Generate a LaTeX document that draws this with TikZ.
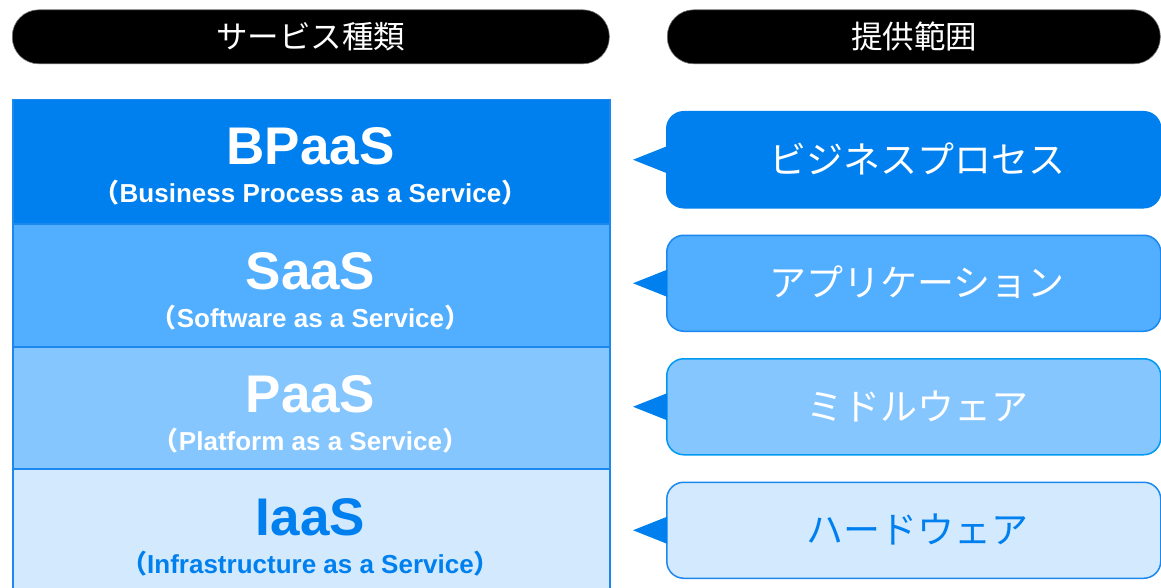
\documentclass[tikz,border=0pt]{standalone}
\usepackage{fontspec}
\setmainfont{Liberation Sans}
\newfontfamily\cjk{Noto Sans CJK JP}
\usetikzlibrary{calc}
\definecolor{cA}{HTML}{0080EE}
\definecolor{cB}{HTML}{52AEFF}
\definecolor{cC}{HTML}{85C6FF}
\definecolor{cD}{HTML}{D3E9FE}
\definecolor{edgeblue}{HTML}{1A88EE}
\begin{document}
\begin{tikzpicture}[x=1pt,y=-1pt,
 header/.style={fill=black, draw=black!55, line width=0.6pt, rounded corners=26.5pt, minimum height=54pt, inner sep=0pt, anchor=north west},
 headtext/.style={text=white, font=\cjk\fontsize{31.5}{31.5}\selectfont, inner sep=0pt},
 layer/.style={draw=edgeblue, line width=1.5pt, minimum width=597pt, anchor=north west, inner sep=0pt},
 ttl/.style={font=\bfseries\fontsize{53}{53}\selectfont, inner sep=0pt, anchor=base},
 subttl/.style={font=\bfseries\fontsize{26}{26}\selectfont, inner sep=0pt, anchor=base},
 callout/.style={draw=edgeblue, line width=1.5pt, rounded corners=17pt, minimum width=494pt, minimum height=96pt, anchor=north west, inner sep=0pt},
 calltext/.style={font=\cjk\fontsize{37}{37}\selectfont, inner sep=0pt},
 pointer/.style={fill=cA}
]
\useasboundingbox (0,0) rectangle (1161,588);
\clip (0,0) rectangle (1161,588);

% headers
\node[header, minimum width=597pt] (h1) at (12,9.5) {};
\node[header, minimum width=493pt] (h2) at (667,9.5) {};
\node[headtext] (h1t) at (310.5,36.5) {サービス種類};
\node[headtext] (h2t) at (914,36.5) {提供範囲};

% layers
\node[layer, fill=cA, minimum height=124pt] (L1) at (12,99) {};
\node[layer, fill=cB, minimum height=123pt] (L2) at (12,223) {};
\node[layer, fill=cC, minimum height=122pt] (L3) at (12,346) {};
\node[layer, fill=cD, minimum height=130pt] (L4) at (12,468) {};

\node[ttl, text=white] (t1) at (310.5,165) {BPaaS};
\node[subttl, text=white] (s1) at (310.5,203) {{\cjk\bfseries （}Business Process as a Service{\cjk\bfseries ）}};
\node[ttl, text=white] (t2) at (310.5,289) {SaaS};
\node[subttl, text=white] (s2) at (310.5,327) {{\cjk\bfseries （}Software as a Service{\cjk\bfseries ）}};
\node[ttl, text=white] (t3) at (310.5,412) {PaaS};
\node[subttl, text=white] (s3) at (310.5,450) {{\cjk\bfseries （}Platform as a Service{\cjk\bfseries ）}};
\node[ttl, text=cA] (t4) at (310.5,535) {IaaS};
\node[subttl, text=cA] (s4) at (310.5,573) {{\cjk\bfseries （}Infrastructure as a Service{\cjk\bfseries ）}};

% callouts
\node[callout, fill=cA, draw=cA] (b1) at (666,111) {};
\node[callout, fill=cB] (b2) at (666,234.5) {};
\node[callout, fill=cC, draw=cA!80!cyan] (b3) at (666,358) {};
\node[callout, fill=cD] (b4) at (666,481.5) {};

\foreach \b in {b1,b2,b3,b4}{
  \fill[pointer] ($(\b.west)+(1,-13.5)$) -- ($(\b.west)+(-33,0)$) -- ($(\b.west)+(1,13.5)$) -- cycle;
}

\node[calltext, text=white] (c1) at (917,159) {ビジネスプロセス};
\node[calltext, text=white] (c2) at (917,282.5) {アプリケーション};
\node[calltext, text=white] (c3) at (917,406) {ミドルウェア};
\node[calltext, text=cA] (c4) at (917,529.5) {ハードウェア};
\end{tikzpicture}
\end{document}
